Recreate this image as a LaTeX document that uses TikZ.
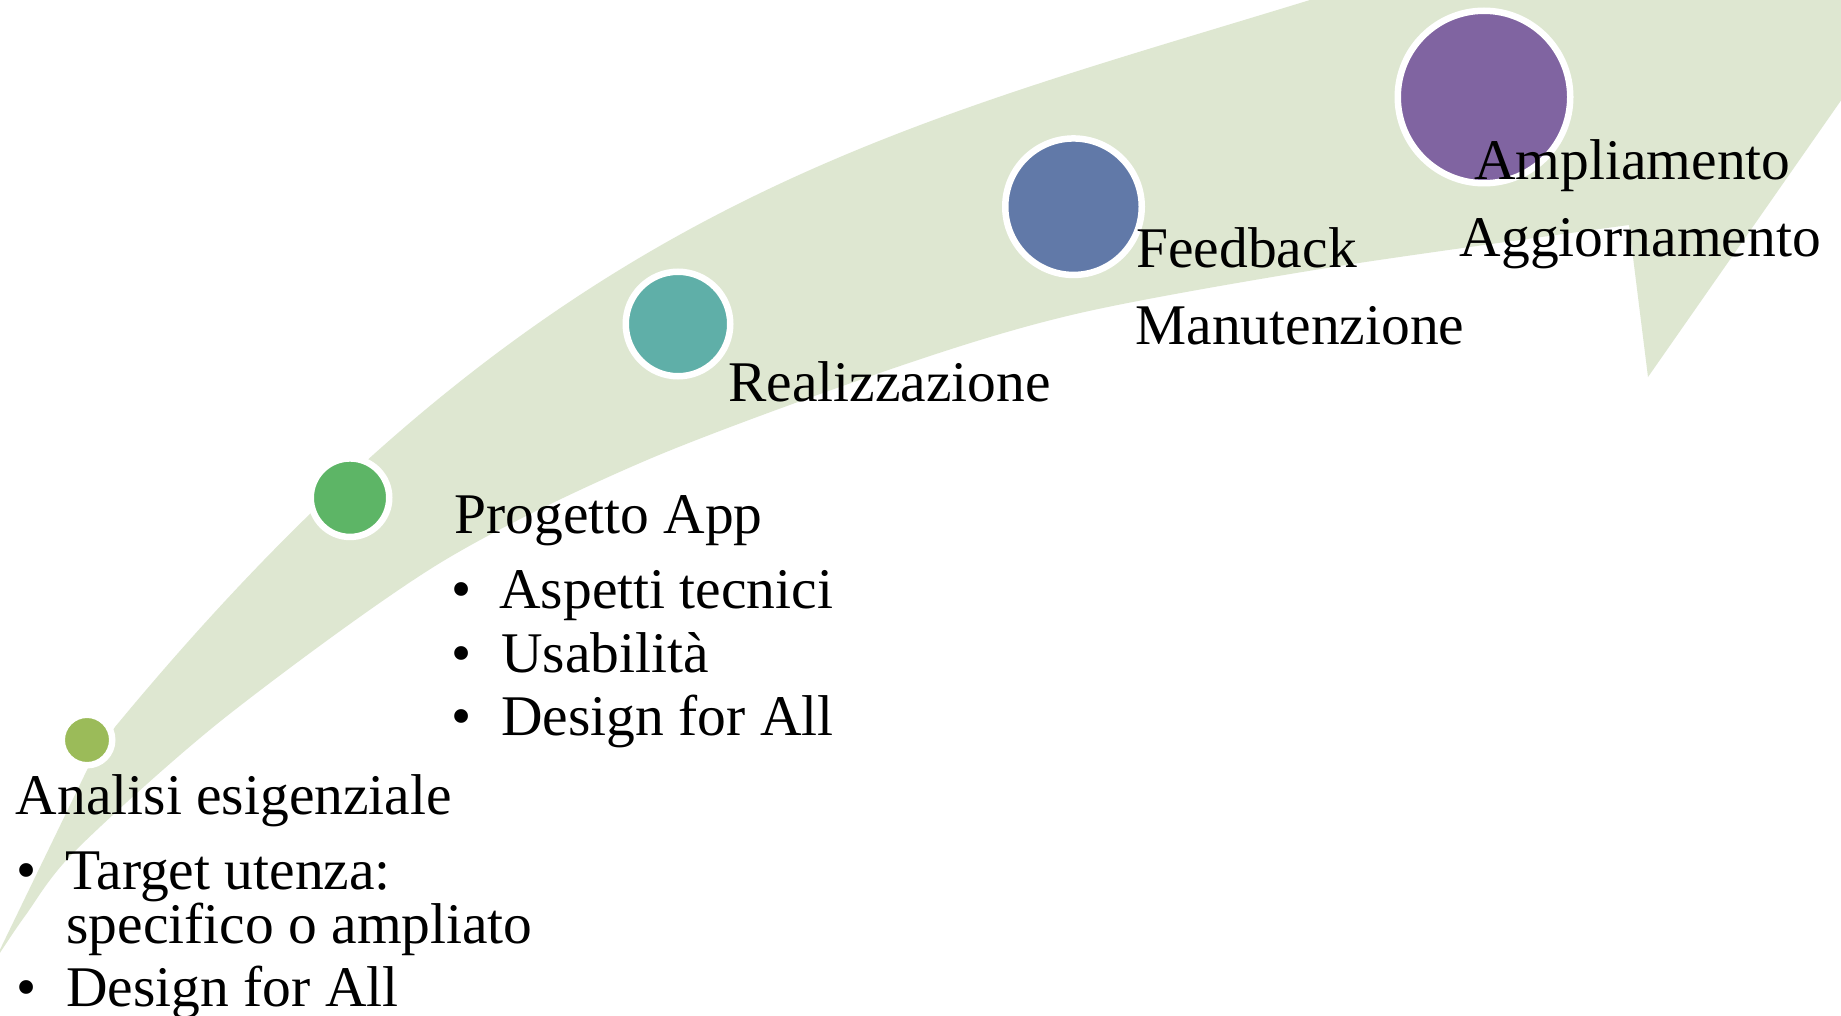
\documentclass[tikz,border=0pt]{standalone}
\usepackage{fontspec}
\setmainfont{Liberation Serif}
\definecolor{band}{HTML}{DEE7D1}
\definecolor{cA}{HTML}{9BBB59}
\definecolor{cB}{HTML}{5DB566}
\definecolor{cC}{HTML}{5FAFA8}
\definecolor{cD}{HTML}{6179A8}
\definecolor{cE}{HTML}{8064A1}
\begin{document}
\begin{tikzpicture}[x=0.5pt,y=-0.5pt,
  lbl/.style={inner sep=0pt, anchor=base west, font=\fontsize{28.75pt}{34pt}\selectfont},
  bul/.style={inner sep=0pt, anchor=base, font=\fontsize{28.75pt}{34pt}\selectfont},
  dot/.style={circle, draw=white, line width=3.25pt, inner sep=0pt}]
\useasboundingbox (0,0) rectangle (1841,1016);
\fill[white] (0,0) rectangle (1841,1016);
\begin{scope}
\clip (0,0) rectangle (1841,1016);
\fill[band] (-6,962) -- (88,768) -- (115,727)
  .. controls (548,203) and (880,132) .. (1310,0) -- (1450,-43)
  -- (1939,-40) -- (1648,377) -- (1629,225)
  -- plot[smooth, tension=0.5] coordinates {(1629,225) (1333,267) (1080,313) (900,366) (647,460) (440,563) (227,716) (77,849) (25,916) (-6,962)}
  -- cycle;
\end{scope}
\node[dot, fill=cA, minimum size=25.25pt] (n1) at (87,740) {};
\node[dot, fill=cB, minimum size=39.25pt] (n2) at (350,497.7) {};
\node[dot, fill=cC, minimum size=52.25pt] (n3) at (678,324) {};
\node[dot, fill=cD, minimum size=68.25pt] (n4) at (1073.5,206.7) {};
\node[dot, fill=cE, minimum size=86.25pt] (n5) at (1484,97) {};
% block 1
\node[lbl] (t1) at (15.5,814) {Analisi esigenziale};
\node[bul] (b11) at (26.5,889) {•};
\node[lbl] (t11) at (65,889) {Target utenza:};
\node[lbl] (t12) at (66,943) {specifico o ampliato};
\node[bul] (b13) at (26.5,1006) {•};
\node[lbl] (t13) at (66,1006) {Design for All};
% block 2
\node[lbl] (t2) at (454,533) {Progetto App};
\node[bul] (b21) at (461.5,608) {•};
\node[lbl] (t21) at (499,608) {Aspetti tecnici};
\node[bul] (b22) at (461.5,672) {•};
\node[lbl] (t22) at (501,672) {Usabilità};
\node[bul] (b23) at (461.5,735) {•};
\node[lbl] (t23) at (501,735) {Design for All};
% block 3
\node[lbl] (t3) at (728,401.5) {Realizzazione};
% block 4
\node[lbl] (t4) at (1136,268) {Feedback};
\node[lbl] (t41) at (1135,344) {Manutenzione};
% block 5
\node[lbl] (t5) at (1474,180) {Ampliamento};
\node[lbl] (t51) at (1459.5,256.5) {Aggiornamento};
\end{tikzpicture}
\end{document}
